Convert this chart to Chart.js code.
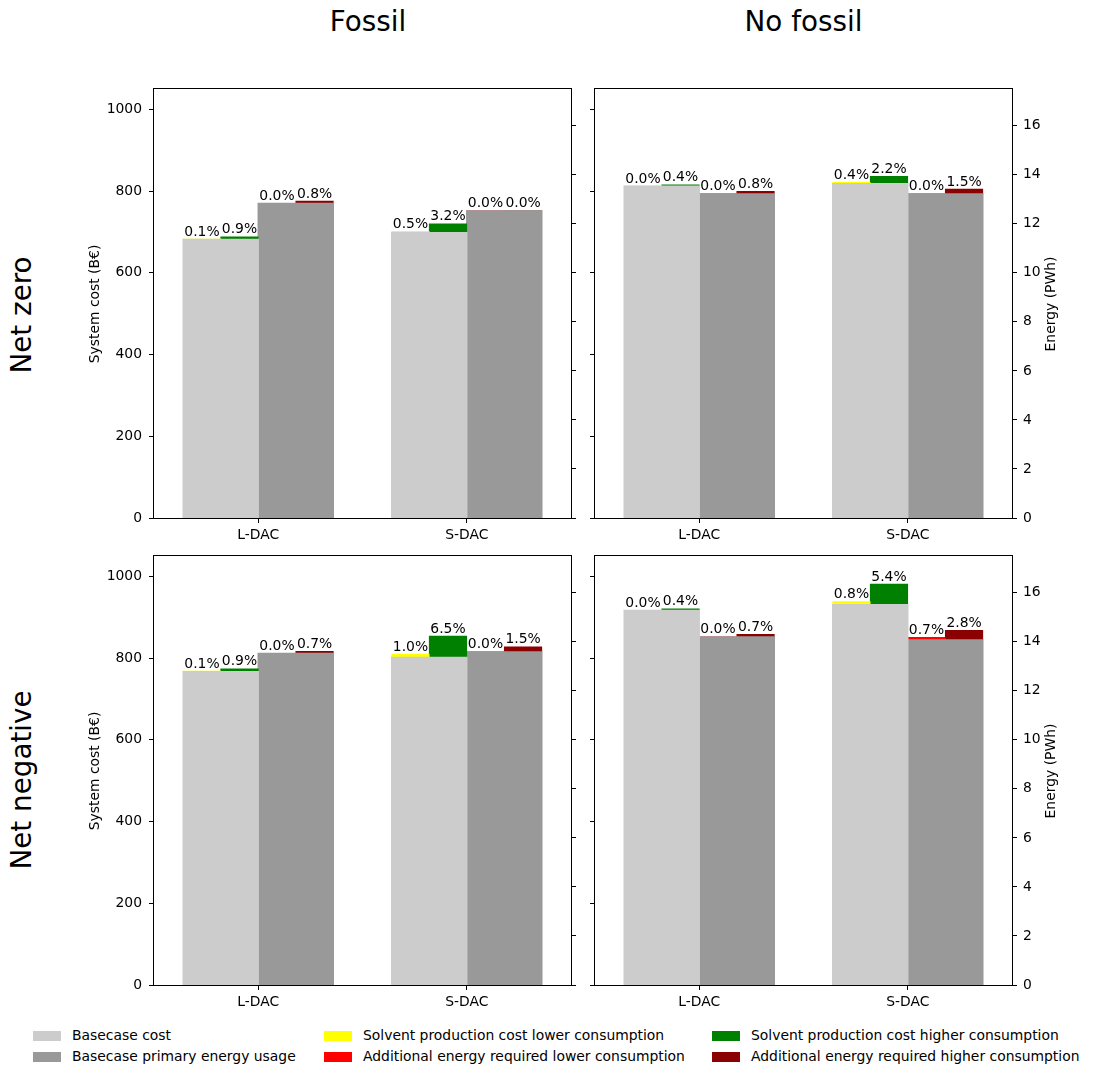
<!DOCTYPE html>
<html>
<head>
<meta charset="utf-8">
<script src="https://cdn.jsdelivr.net/npm/chart.js"></script>
<style>
  html, body { margin: 0; padding: 0; background: #fff; }
  #fig { position: relative; width: 1112px; height: 1077px; font-family: "DejaVu Sans", sans-serif; color: #000; overflow: hidden; }
  .panel { position: absolute; }
  .txt { position: absolute; white-space: nowrap; line-height: 1; }
  .big { font-size: 27.8px; }
  .small { font-size: 13.9px; }
  .rot { transform: translate(-50%, -50%) rotate(-90deg); }
  .ctr { transform: translate(-50%, -50%); }
  .swatch { position: absolute; width: 28px; height: 10px; }
</style>
</head>
<body>
<div id="fig">
  <div class="panel" style="left:83px;top:80px;width:500px;height:465px"><canvas id="c0"></canvas></div>
  <div class="panel" style="left:583px;top:80px;width:517px;height:465px"><canvas id="c1"></canvas></div>
  <div class="panel" style="left:83px;top:547px;width:500px;height:465px"><canvas id="c2"></canvas></div>
  <div class="panel" style="left:583px;top:547px;width:517px;height:465px"><canvas id="c3"></canvas></div>
</div>
<script>
// panel order: [net zero / fossil, net zero / no fossil, net negative / fossil, net negative / no fossil]
const categories = ["L-DAC", "S-DAC"];
const columnTitles = ["Fossil", "No fossil"];
const rowTitles = ["Net zero", "Net negative"];
const costTitle = "System cost (B€)";
const energyTitle = "Energy (PWh)";
const costTicks = [0, 200, 400, 600, 800, 1000];
const energyTicks = [0, 2, 4, 6, 8, 10, 12, 14, 16];

// B€
const baseCost = [[682, 698], [812, 818], [767, 802], [917, 931]];
const solventLow = [[0.7, 3.5], [0.2, 3.3], [1.2, 8], [0.2, 7.5]];
const solventHigh = [[6.1, 22.3], [3.2, 18], [6.9, 52], [3.7, 50]];
// PWh
const baseEnergy = [[12.83, 12.53], [13.22, 13.22], [13.52, 13.59], [14.2, 14.08]];
const energyLow = [[0, 0], [0, 0], [0, 0], [0, 0.1]];
const energyHigh = [[0.1, 0], [0.106, 0.2], [0.095, 0.2], [0.1, 0.39]];

const solventLowPct = [["0.1%", "0.5%"], ["0.0%", "0.4%"], ["0.1%", "1.0%"], ["0.0%", "0.8%"]];
const solventHighPct = [["0.9%", "3.2%"], ["0.4%", "2.2%"], ["0.9%", "6.5%"], ["0.4%", "5.4%"]];
const energyLowPct = [["0.0%", "0.0%"], ["0.0%", "0.0%"], ["0.0%", "0.0%"], ["0.0%", "0.7%"]];
const energyHighPct = [["0.8%", "0.0%"], ["0.8%", "1.5%"], ["0.7%", "1.5%"], ["0.7%", "2.8%"]];

const legendItems = [
  ["Basecase cost", "#cccccc"],
  ["Basecase primary energy usage", "#999999"],
  ["Solvent production cost lower consumption", "#ffff00"],
  ["Additional energy required lower consumption", "#ff0000"],
  ["Solvent production cost higher consumption", "#008000"],
  ["Additional energy required higher consumption", "#8b0000"],
];

const FONT = '"DejaVu Sans", sans-serif';
Chart.defaults.font.family = FONT;
Chart.defaults.font.size = 13.9;
Chart.defaults.color = "#000";

const fig = document.getElementById("fig");

function addText(text, cls, x, y) {
  const el = document.createElement("div");
  el.className = "txt " + cls;
  el.style.left = x + "px";
  el.style.top = y + "px";
  el.textContent = text;
  fig.appendChild(el);
}

addText(columnTitles[0], "big ctr", 368, 21.5);
addText(columnTitles[1], "big ctr", 803.5, 21.5);
addText(rowTitles[0], "big rot", 21.5, 315);
addText(rowTitles[1], "big rot", 21.5, 780);
addText(costTitle, "small rot", 95.3, 303.5);
addText(costTitle, "small rot", 95.3, 770.5);
addText(energyTitle, "small rot", 1051, 303.5);
addText(energyTitle, "small rot", 1051, 770.5);

const legendCols = [33, 324, 712];
const legendRows = [1036, 1057];
legendItems.forEach(([label, color], i) => {
  const x = legendCols[Math.floor(i / 2)];
  const y = legendRows[i % 2];
  const sw = document.createElement("div");
  sw.className = "swatch";
  sw.style.left = x + "px";
  sw.style.top = (y - 5) + "px";
  sw.style.background = color;
  fig.appendChild(sw);
  const el = document.createElement("div");
  el.className = "txt small";
  el.style.left = (x + 39) + "px";
  el.style.top = y + "px";
  el.style.transform = "translateY(-50%)";
  el.textContent = label;
  fig.appendChild(el);
});

const pctLabels = {
  id: "pctLabels",
  afterDatasetsDraw(chart) {
    const ctx = chart.ctx;
    ctx.save();
    ctx.font = "13.9px " + FONT;
    ctx.fillStyle = "#000";
    ctx.textAlign = "center";
    ctx.textBaseline = "alphabetic";
    chart.data.datasets.forEach((ds, i) => {
      if (!ds.pct) return;
      chart.getDatasetMeta(i).data.forEach((bar, j) => {
        ctx.fillText(ds.pct[j], bar.x, bar.y - 3.5);
      });
    });
    ctx.restore();
  },
};

const frame = {
  id: "frame",
  afterDraw(chart) {
    const { left, right, top, bottom } = chart.chartArea;
    const ctx = chart.ctx;
    ctx.save();
    ctx.strokeStyle = "#000";
    ctx.lineWidth = 1;
    ctx.strokeRect(Math.round(left) - 0.5, Math.round(top) - 0.5, Math.round(right - left) + 1, Math.round(bottom - top) + 1);
    ctx.restore();
  },
};

function tickGrid() {
  return { display: true, drawOnChartArea: false, drawTicks: true, tickLength: 5, color: "#000", lineWidth: 1, offset: false };
}

function bar(label, data, color, stack, axis, pct) {
  // base bars are inflated a little so the two halves of one grey block show no seam
  return { label, data, backgroundColor: color, stack, yAxisID: axis, pct, borderWidth: 0, inflateAmount: pct ? 0.33 : 0.7 };
}

function noPad(s) {
  s.paddingTop = 0;
  s.paddingBottom = 0;
}

function makePanel(p) {
  const isLeft = p % 2 === 0;
  new Chart(document.getElementById("c" + p), {
    type: "bar",
    data: {
      labels: categories,
      datasets: [
        bar(legendItems[0][0], baseCost[p], "#cccccc", "a", "y"),
        bar(legendItems[2][0], solventLow[p], "#ffff00", "a", "y", solventLowPct[p]),
        bar(legendItems[0][0], baseCost[p], "#cccccc", "b", "y"),
        bar(legendItems[4][0], solventHigh[p], "#008000", "b", "y", solventHighPct[p]),
        bar(legendItems[1][0], baseEnergy[p], "#999999", "c", "y2"),
        bar(legendItems[3][0], energyLow[p], "#ff0000", "c", "y2", energyLowPct[p]),
        bar(legendItems[1][0], baseEnergy[p], "#999999", "d", "y2"),
        bar(legendItems[5][0], energyHigh[p], "#8b0000", "d", "y2", energyHighPct[p]),
      ],
    },
    options: {
      responsive: true,
      maintainAspectRatio: false,
      animation: false,
      categoryPercentage: 0.72,
      barPercentage: 1.0,
      layout: { padding: { top: 9, left: 0, right: 0, bottom: 0 } },
      plugins: { legend: { display: false }, tooltip: { enabled: false } },
      scales: {
        x: {
          type: "category",
          offset: true,
          grid: tickGrid(),
          border: { display: false },
          ticks: { padding: 4, color: "#000" },
          afterFit: (s) => { s.height = 27; },
        },
        y: {
          type: "linear",
          position: "left",
          min: 0,
          max: 1050,
          stacked: true,
          grid: tickGrid(),
          border: { display: false },
          ticks: { display: isLeft, padding: 7, color: "#000", callback: (v) => String(v) },
          afterBuildTicks: (s) => { s.ticks = costTicks.map((v) => ({ value: v })); },
          afterFit: (s) => { s.width = isLeft ? 71 : 12; noPad(s); },
        },
        y2: {
          type: "linear",
          position: "right",
          min: 0,
          max: 17.5,
          stacked: true,
          grid: tickGrid(),
          border: { display: false },
          ticks: { display: !isLeft, padding: 6, color: "#000", callback: (v) => String(v) },
          afterBuildTicks: (s) => { s.ticks = energyTicks.map((v) => ({ value: v })); },
          afterFit: (s) => { s.width = isLeft ? 12 : 88; noPad(s); },
        },
      },
    },
    plugins: [pctLabels, frame],
  });
}

[0, 1, 2, 3].forEach(makePanel);
</script>
</body>
</html>
